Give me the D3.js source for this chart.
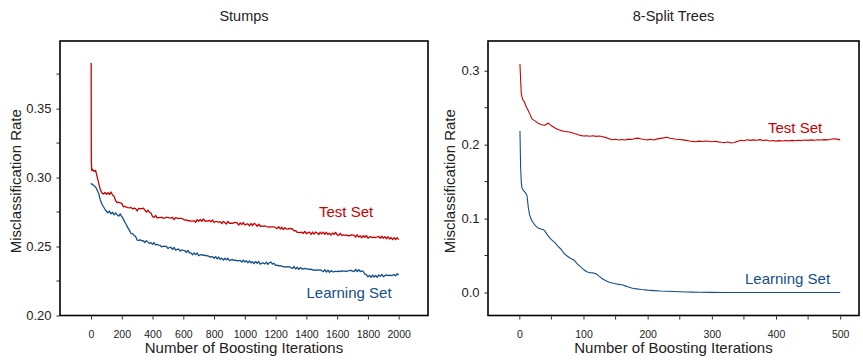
<!DOCTYPE html>
<html><head><meta charset="utf-8">
<script src="https://cdn.jsdelivr.net/npm/d3@7"></script>
<style>
body{margin:0;background:#fff}
svg{display:block;font-family:"Liberation Sans",Arial,Helvetica,sans-serif}
</style>
</head><body>
<svg id="chart" width="863" height="360"></svg>
<script>
// ---------- DATA ----------
const panelTitles = ["Stumps", "8-Split Trees"];
const seriesLabels = ["Test Set", "Learning Set"];
const yAxisTitle = "Misclassification Rate";
const xAxisTitle = "Number of Boosting Iterations";

const stumpsTicksX = [0,200,400,600,800,1000,1200,1400,1600,1800,2000];
const stumpsTicksY = [0.20,0.25,0.30,0.35];
const stumpsMinorY = [0.225,0.275,0.325,0.375];
const treesTicksX = [0,100,200,300,400,500];
const treesMinorX = [50,150,250,350,450];
const treesTicksY = [0.0,0.1,0.2,0.3];
const treesMinorY = [0.05,0.15,0.25];

const stumpsIter = [1,2,5,
 10,20,30,40,50,60,70,80,90,100,
 110,120,130,140,150,160,170,180,190,200,
 210,220,230,240,250,260,270,280,290,300,
 310,320,330,340,350,360,370,380,390,400,
 410,420,430,440,450,460,470,480,490,500,
 510,520,530,540,550,560,570,580,590,600,
 610,620,630,640,650,660,670,680,690,700,
 710,720,730,740,750,760,770,780,790,800,
 810,820,830,840,850,860,870,880,890,900,
 910,920,930,940,950,960,970,980,990,1000,
 1010,1020,1030,1040,1050,1060,1070,1080,1090,1100,
 1110,1120,1130,1140,1150,1160,1170,1180,1190,1200,
 1210,1220,1230,1240,1250,1260,1270,1280,1290,1300,
 1310,1320,1330,1340,1350,1360,1370,1380,1390,1400,
 1410,1420,1430,1440,1450,1460,1470,1480,1490,1500,
 1510,1520,1530,1540,1550,1560,1570,1580,1590,1600,
 1610,1620,1630,1640,1650,1660,1670,1680,1690,1700,
 1710,1720,1730,1740,1750,1760,1770,1780,1790,1800,
 1810,1820,1830,1840,1850,1860,1870,1880,1890,1900,
 1910,1920,1930,1940,1950,1960,1970,1980,1990,2000];

const stumpsTest = [.3830,.3120,.3050,
 .3060,.3045,.3052,.3005,.2960,.2915,.2890,.2880,.2892,.2878,
 .2891,.2877,.2895,.2873,.2864,.2832,.2819,.2821,.2817,.2813,
 .2789,.2791,.2785,.2782,.2780,.2783,.2773,.2778,.2774,.2758,
 .2776,.2774,.2775,.2778,.2765,.2749,.2764,.2747,.2743,.2717,
 .2712,.2726,.2707,.2710,.2710,.2713,.2704,.2707,.2711,.2712,
 .2707,.2706,.2712,.2695,.2710,.2705,.2704,.2704,.2704,.2698,
 .2691,.2694,.2687,.2688,.2684,.2684,.2688,.2675,.2695,.2682,
 .2697,.2682,.2700,.2685,.2685,.2684,.2690,.2679,.2693,.2674,
 .2681,.2681,.2676,.2680,.2666,.2682,.2674,.2663,.2682,.2668,
 .2670,.2668,.2673,.2675,.2672,.2656,.2672,.2659,.2674,.2656,
 .2663,.2664,.2650,.2667,.2651,.2668,.2661,.2647,.2662,.2647,
 .2650,.2647,.2650,.2645,.2643,.2640,.2643,.2643,.2643,.2636,
 .2630,.2644,.2627,.2640,.2623,.2637,.2628,.2626,.2631,.2629,
 .2627,.2614,.2616,.2603,.2602,.2601,.2605,.2595,.2610,.2593,
 .2601,.2605,.2589,.2605,.2590,.2605,.2598,.2587,.2604,.2592,
 .2604,.2589,.2603,.2587,.2597,.2582,.2598,.2589,.2603,.2584,
 .2581,.2596,.2580,.2584,.2580,.2584,.2578,.2578,.2584,.2582,
 .2582,.2569,.2585,.2569,.2578,.2563,.2579,.2567,.2580,.2561,
 .2568,.2571,.2565,.2568,.2565,.2569,.2573,.2560,.2575,.2560,
 .2572,.2556,.2571,.2555,.2565,.2550,.2565,.2551,.2564,.2550];

const stumpsLearn = [.2960,.2955,.2952,
 .2950,.2940,.2932,.2910,.2885,.2840,.2810,.2790,.2772,.2756,
 .2745,.2757,.2737,.2749,.2730,.2744,.2730,.2720,.2737,.2716,
 .2700,.2676,.2658,.2635,.2617,.2594,.2594,.2581,.2572,.2547,
 .2545,.2549,.2541,.2542,.2529,.2543,.2532,.2522,.2528,.2516,
 .2529,.2511,.2516,.2511,.2508,.2497,.2502,.2501,.2502,.2486,
 .2493,.2494,.2479,.2493,.2474,.2479,.2482,.2467,.2475,.2472,
 .2470,.2457,.2472,.2454,.2454,.2440,.2454,.2441,.2453,.2433,
 .2440,.2442,.2436,.2438,.2432,.2433,.2426,.2424,.2427,.2415,
 .2427,.2410,.2424,.2407,.2416,.2401,.2415,.2403,.2415,.2397,
 .2404,.2406,.2399,.2401,.2396,.2398,.2400,.2387,.2402,.2387,
 .2398,.2382,.2396,.2381,.2391,.2376,.2391,.2379,.2391,.2372,
 .2379,.2381,.2374,.2387,.2370,.2384,.2387,.2373,.2378,.2364,
 .2365,.2360,.2362,.2357,.2355,.2351,.2354,.2353,.2354,.2346,
 .2342,.2355,.2337,.2350,.2334,.2347,.2339,.2337,.2342,.2338,
 .2338,.2333,.2336,.2331,.2330,.2327,.2330,.2329,.2331,.2324,
 .2319,.2332,.2315,.2329,.2312,.2326,.2318,.2316,.2321,.2318,
 .2321,.2318,.2324,.2321,.2321,.2319,.2324,.2325,.2328,.2322,
 .2319,.2334,.2318,.2333,.2318,.2324,.2319,.2300,.2296,.2280,
 .2291,.2277,.2293,.2279,.2290,.2277,.2294,.2284,.2298,.2281,
 .2289,.2294,.2289,.2293,.2289,.2293,.2297,.2287,.2303,.2293];

const treesTestIter = [1,2,3,4,5,6,8,
 10,15,20,25,30,35,40,45,50,55,
 60,65,70,75,80,85,90,95,100,105,
 110,115,120,125,130,135,140,145,150,155,
 160,165,170,175,180,185,190,195,200,205,
 210,215,220,225,230,235,240,245,250,255,
 260,265,270,275,280,285,290,295,300,305,
 310,315,320,325,330,335,340,345,350,355,
 360,365,370,375,380,385,390,395,400,405,
 410,415,420,425,430,435,440,445,450,455,
 460,465,470,475,480,485,490,495,500];

const treesTest = [.3090,.2880,.2700,.2650,.2620,.2600,.2580,
 .2525,.2440,.2345,.2318,.2285,.2270,.2262,.2292,.2255,.2228,
 .2206,.2190,.2182,.2175,.2168,.2150,.2140,.2125,.2118,.2121,
 .2114,.2120,.2112,.2117,.2108,.2095,.2080,.2066,.2072,.2063,
 .2069,.2062,.2075,.2070,.2082,.2088,.2076,.2070,.2065,.2072,
 .2064,.2078,.2085,.2092,.2100,.2086,.2080,.2074,.2070,.2064,
 .2058,.2050,.2044,.2040,.2048,.2042,.2050,.2045,.2040,.2046,
 .2038,.2032,.2028,.2035,.2022,.2030,.2044,.2060,.2052,.2066,
 .2058,.2064,.2060,.2068,.2055,.2062,.2050,.2056,.2048,.2055,
 .2050,.2057,.2051,.2058,.2052,.2060,.2055,.2063,.2058,.2065,
 .2060,.2066,.2062,.2068,.2064,.2072,.2080,.2075,.2065];

const treesLearnIter = [1,2,3,4,5,6,8,
 10,12,14,16,18,20,22,25,28,30,35,38,40,
 45,50,55,60,65,70,75,80,85,90,95,100,105,110,115,120,125,130,135,140,
 145,150,155,160,165,170,175,180,
 190,200,210,220,230,240,250,260,270,280,
 300,320,350,400,450,500];

const treesLearn = [.2185,.1700,.1500,.1420,.1400,.1385,.1365,
 .1345,.1310,.1150,.1050,.1000,.0965,.0940,.0905,.0880,.0870,.0855,.0848,.0830,
 .0762,.0715,.0678,.0628,.0585,.0525,.0490,.0460,.0440,.0390,.0350,.0312,.0280,.0268,.0265,.0252,.0215,.0182,.0160,.0140,
 .0128,.0118,.0110,.0104,.0090,.0075,.0062,.0052,
 .0040,.0032,.0026,.0020,.0016,.0013,.0010,.0007,.0005,.0004,
 .0002,.0001,0,0,0,0];

// ---------- DRAWING ----------
const RED = "#cc0000", BLUE = "#124e8e", INK = "#222";
const svg = d3.select("#chart");

function zip(xs, ys){ const n = Math.min(xs.length, ys.length); const out=[]; for(let i=0;i<n;i++) out.push([xs[i], ys[i]]); return out; }

function panel(cfg){
  const g = svg.append("g");
  const x = d3.scaleLinear().domain(cfg.xDomain).range([cfg.left, cfg.right]);
  const y = d3.scaleLinear().domain(cfg.yDomain).range([cfg.bottom, cfg.top]);

  g.append("text").attr("x", (cfg.left+cfg.right)/2).attr("y", 21)
    .attr("text-anchor","middle").attr("font-size", 14.5).attr("fill", INK).text(cfg.title);

  const ya = g.append("g").attr("transform", `translate(${cfg.left-0.5},0)`)
    .call(d3.axisLeft(y).tickValues(cfg.yTicks).tickSize(3).tickPadding(5).tickFormat(d3.format(cfg.yFmt)));
  ya.select(".domain").remove();
  ya.selectAll("text").attr("font-size", 13).attr("fill", INK).attr("font-family", null);
  ya.selectAll("line").attr("stroke", INK);
  g.append("g").selectAll("line").data(cfg.yMinor).join("line")
    .attr("x1", cfg.left-3.5).attr("x2", cfg.left-0.5)
    .attr("y1", d=>y(d)).attr("y2", d=>y(d)).attr("stroke", INK);

  const xa = g.append("g").attr("transform", `translate(0,${cfg.bottom+1})`)
    .call(d3.axisBottom(x).tickValues(cfg.xTicks).tickSize(3).tickPadding(11).tickFormat(d3.format("d")));
  xa.select(".domain").remove();
  xa.selectAll("text").attr("font-size", 10.5).attr("fill", INK).attr("font-family", null);
  xa.selectAll("line").attr("stroke", INK);
  g.append("g").selectAll("line").data(cfg.xMinor).join("line")
    .attr("x1", d=>x(d)).attr("x2", d=>x(d))
    .attr("y1", cfg.bottom+1).attr("y2", cfg.bottom+4).attr("stroke", INK);

  g.append("text").attr("x", (cfg.left+cfg.right)/2).attr("y", 352.5)
    .attr("text-anchor","middle").attr("font-size", 15).attr("fill", INK).text(xAxisTitle);
  g.append("text").attr("transform", `translate(${cfg.ytx},${(cfg.top+cfg.bottom)/2+3}) rotate(-90)`)
    .attr("text-anchor","middle").attr("font-size", 15).attr("fill", INK).text(yAxisTitle);

  const clipId = "clip"+cfg.id;
  g.append("clipPath").attr("id", clipId).append("rect")
    .attr("x", cfg.left).attr("y", cfg.top).attr("width", cfg.right-cfg.left).attr("height", cfg.bottom-cfg.top);
  const line = d3.line().x(d=>x(d[0])).y(d=>y(d[1]));
  const lg = g.append("g").attr("clip-path", `url(#${clipId})`);
  lg.append("path").datum(zip(cfg.learnX, cfg.learn)).attr("d", line)
    .attr("fill","none").attr("stroke", BLUE).attr("stroke-width", cfg.lw).attr("stroke-linejoin","round");
  lg.append("path").datum(zip(cfg.testX, cfg.test)).attr("d", line)
    .attr("fill","none").attr("stroke", RED).attr("stroke-width", cfg.lw).attr("stroke-linejoin","round");

  g.append("text").attr("x", cfg.testLab[0]).attr("y", cfg.testLab[1])
    .attr("font-size", 15).attr("fill", RED).text(seriesLabels[0]);
  g.append("text").attr("x", cfg.learnLab[0]).attr("y", cfg.learnLab[1])
    .attr("font-size", 15).attr("fill", BLUE).text(seriesLabels[1]);

  g.append("rect").attr("x", cfg.left).attr("y", cfg.top)
    .attr("width", cfg.right-cfg.left).attr("height", cfg.bottom-cfg.top)
    .attr("fill","none").attr("stroke","#000").attr("stroke-width", 1.6);
}

panel({
  id: "a", title: panelTitles[0],
  left: 60, right: 428, top: 41, bottom: 315.5,
  xDomain: [-201.5, 2190.5], yDomain: [0.20, 0.399],
  xTicks: stumpsTicksX, xMinor: [], yTicks: stumpsTicksY, yMinor: stumpsMinorY, yFmt: ".2f",
  testX: stumpsIter, test: stumpsTest, learnX: stumpsIter, learn: stumpsLearn,
  lw: 1.3, ytx: 21, testLab: [319, 217], learnLab: [306.5, 297.5]
});
panel({
  id: "b", title: panelTitles[1],
  left: 488, right: 859, top: 41, bottom: 315.5,
  xDomain: [-48.8, 529.3], yDomain: [-0.0311, 0.3402],
  xTicks: treesTicksX, xMinor: treesMinorX, yTicks: treesTicksY, yMinor: treesMinorY, yFmt: ".1f",
  testX: treesTestIter, test: treesTest, learnX: treesLearnIter, learn: treesLearn,
  lw: 1.1, ytx: 455, testLab: [768, 133], learnLab: [745, 284]
});
</script>
</body></html>
